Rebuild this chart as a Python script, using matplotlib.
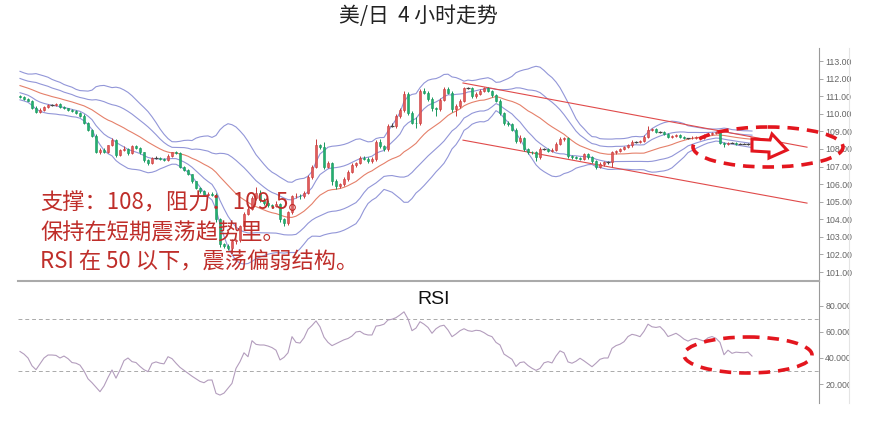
import numpy as np
import pandas as pd
import matplotlib
matplotlib.use("Agg")
import matplotlib.pyplot as plt
from matplotlib.patches import Ellipse, Polygon
from matplotlib.ticker import FormatStrFormatter, FixedLocator
from matplotlib.transforms import Bbox, TransformedBbox
from matplotlib.lines import Line2D

plt.rcParams['font.family'] = ['Noto Sans CJK SC', 'DejaVu Sans']

# ---------------- data (USD/JPY, 4H candles) ----------------
warmup_closes = [112.35, 112.20, 112.05, 111.95, 112.10, 111.85, 111.75, 111.90, 111.65, 111.55,
                 111.70, 111.45, 111.35, 111.50, 111.25, 111.15, 111.30, 111.05, 111.00]

closes = [
    110.95, 110.85, 110.75, 110.35, 110.10, 110.20, 110.40, 110.50, 110.50, 110.55,
    110.40, 110.30, 110.20, 110.15, 110.05, 109.90, 109.50, 109.10, 108.75, 107.85,
    107.95, 107.85, 108.20, 108.50, 107.65, 107.95, 108.00, 107.75, 108.15, 108.05,
    107.80, 107.35, 107.20, 107.50, 107.50, 107.45, 107.35, 107.60, 107.80, 107.75,
    107.00, 106.80, 106.55, 106.15, 105.80, 105.60, 105.40, 105.45, 105.40,
    104.00, 102.60, 102.50, 102.35, 102.75, 102.80, 103.60, 104.30, 104.60, 105.20,
    105.50, 105.10, 104.95, 104.80, 104.75, 104.85, 104.00, 103.80, 104.40, 105.30,
    105.35,
    105.30, 105.50, 106.40, 107.00, 108.20, 108.10, 107.00, 107.20, 106.20, 105.90,
    106.00, 106.30, 106.70, 107.10, 107.20, 107.50, 107.45, 107.30, 107.40, 108.40,
    108.15, 108.00, 109.30, 109.30, 109.90, 110.20, 111.15, 110.05, 109.50, 109.45,
    111.30, 111.20, 110.85, 110.30, 110.25, 110.80, 111.40, 111.20, 110.25, 110.45,
    110.75, 111.45, 111.45, 111.00, 111.15, 111.30, 111.45, 111.30, 111.05, 110.75,
    110.05, 109.50, 109.40, 109.10, 108.45, 108.60, 108.00, 107.85, 107.80, 107.55,
    108.00, 108.00, 107.90, 107.95, 108.30, 108.55, 108.60, 107.60, 107.55, 107.50,
    107.45, 107.70, 107.55, 107.30, 107.00, 107.15, 107.25, 107.25, 107.80, 107.90,
    108.00, 108.10, 108.20, 108.40, 108.40, 108.45, 108.70, 109.10, 109.15, 108.95,
    108.95, 108.85, 108.70, 108.75, 108.80, 108.70, 108.60, 108.60, 108.65, 108.70,
    108.65, 108.80, 108.85, 108.90, 108.95, 108.35, 108.30, 108.35, 108.35, 108.30,
    108.30, 108.30, 108.28, 108.25,
]

# each 4H candle opens at the prior close
opens = [warmup_closes[-1]] + closes[:-1]

upper_wicks = [
    0.05, 0.05, 0.04, 0.06, 0.08, 0.10, 0.05, 0.06, 0.05, 0.08,
    0.05, 0.06, 0.04, 0.05, 0.06, 0.05, 0.08, 0.06, 0.05, 0.10,
    0.08, 0.12, 0.05, 0.10, 0.08, 0.06, 0.15, 0.05, 0.08, 0.05,
    0.06, 0.05, 0.06, 0.05, 0.08, 0.05, 0.06, 0.10, 0.05, 0.06,
    0.06, 0.05, 0.06, 0.05, 0.05, 0.06, 0.05, 0.10, 0.08, 0.12,
    0.10, 0.06, 0.08, 0.12, 0.10, 0.08, 0.10, 0.12, 0.10, 0.35,
    0.15, 0.10, 0.12, 0.08, 0.20, 0.10, 0.10, 0.08, 0.10, 0.15,
    0.10, 0.12, 0.10, 0.08, 0.35, 0.10, 0.30, 0.12, 0.08, 0.10,
    0.08, 0.10, 0.08, 0.10, 0.08, 0.10, 0.08, 0.10, 0.12, 0.08,
    0.15, 0.10, 0.10, 0.15, 0.10, 0.12, 0.15, 0.10, 0.12, 0.30,
    0.12, 0.15, 0.10, 0.08, 0.10, 0.08, 0.10, 0.12, 0.08, 0.10,
    0.10, 0.08, 0.10, 0.08, 0.10, 0.10, 0.08, 0.10, 0.08, 0.06,
    0.08, 0.06, 0.08, 0.06, 0.10, 0.20, 0.10, 0.08, 0.06, 0.08,
    0.10, 0.08, 0.06, 0.08, 0.10, 0.12, 0.08, 0.06, 0.08, 0.06,
    0.06, 0.08, 0.06, 0.05, 0.06, 0.08, 0.06, 0.08, 0.10, 0.06,
    0.08, 0.06, 0.08, 0.10, 0.06, 0.06, 0.08, 0.20, 0.06, 0.06,
    0.05, 0.06, 0.05, 0.06, 0.05, 0.05, 0.06, 0.05, 0.06, 0.05,
    0.05, 0.06, 0.05, 0.06, 0.08, 0.08, 0.05, 0.04, 0.05, 0.04,
    0.04, 0.04, 0.04, 0.05,
]

lower_wicks = [
    0.05, 0.06, 0.05, 0.08, 0.06, 0.05, 0.06, 0.05, 0.06, 0.05,
    0.06, 0.05, 0.06, 0.05, 0.06, 0.08, 0.06, 0.08, 0.06, 0.10,
    0.12, 0.08, 0.06, 0.06, 0.10, 0.08, 0.06, 0.10, 0.06, 0.08,
    0.06, 0.08, 0.10, 0.06, 0.05, 0.06, 0.05, 0.06, 0.08, 0.06,
    0.10, 0.08, 0.06, 0.08, 0.06, 0.08, 0.06, 0.05, 0.06, 0.15,
    0.20, 0.15, 0.12, 0.10, 0.15, 0.08, 0.10, 0.08, 0.10, 0.08,
    0.10, 0.12, 0.08, 0.10, 0.08, 0.15, 0.20, 0.12, 0.08, 0.10,
    0.12, 0.10, 0.08, 0.10, 0.08, 0.10, 0.12, 0.10, 0.25, 0.15,
    0.10, 0.08, 0.10, 0.08, 0.10, 0.08, 0.10, 0.12, 0.08, 0.10,
    0.10, 0.12, 0.10, 0.08, 0.10, 0.12, 0.10, 0.12, 0.10, 0.25,
    0.10, 0.08, 0.10, 0.12, 0.40, 0.10, 0.08, 0.10, 0.15, 0.35,
    0.10, 0.08, 0.06, 0.10, 0.08, 0.06, 0.08, 0.06, 0.08, 0.10,
    0.10, 0.12, 0.08, 0.10, 0.12, 0.10, 0.10, 0.12, 0.10, 0.25,
    0.12, 0.08, 0.10, 0.08, 0.06, 0.08, 0.10, 0.12, 0.10, 0.10,
    0.08, 0.10, 0.12, 0.10, 0.15, 0.08, 0.10, 0.08, 0.25, 0.08,
    0.06, 0.08, 0.06, 0.08, 0.06, 0.08, 0.06, 0.08, 0.06, 0.06,
    0.06, 0.05, 0.06, 0.05, 0.06, 0.05, 0.06, 0.05, 0.05, 0.06,
    0.05, 0.06, 0.05, 0.06, 0.05, 0.06, 0.20, 0.05, 0.04, 0.05,
    0.04, 0.04, 0.04, 0.05,
]

rsi_values = [
    45.0, 43.0, 40.0, 34.0, 31.0, 35.5, 40.0, 42.3, 42.3, 42.0,
    40.0, 41.5, 39.5, 36.5, 36.0, 34.5, 30.0, 24.0, 21.0, 17.5,
    14.1, 18.5, 25.0, 30.8, 24.5, 30.8, 38.0, 40.0, 37.2, 36.5,
    33.5, 31.0, 29.5, 35.9, 37.0, 36.0, 35.5, 41.0, 39.5, 36.0,
    32.8, 30.5, 28.2, 26.0, 24.0, 22.0, 21.0, 23.0, 23.1, 12.8,
    11.5, 13.0, 16.7, 20.5, 32.0, 37.2, 44.0, 41.0, 53.3, 50.5,
    50.0, 50.0, 49.2, 48.0, 46.0, 38.5, 40.5, 44.0, 56.4, 52.0,
    51.5, 55.5, 62.1, 65.0, 68.5, 64.0, 56.0, 52.0, 49.5, 51.0,
    52.5, 54.0, 55.0, 56.9, 60.0, 60.5, 58.5, 57.7, 57.7, 64.5,
    65.0, 66.0, 69.2, 69.8, 71.0, 73.1, 75.5, 70.0, 61.0, 63.0,
    67.9, 66.0, 63.5, 59.0, 62.5, 64.5, 65.2, 61.5, 56.4, 58.5,
    61.0, 62.5, 61.0, 60.5, 61.3, 61.0, 59.5, 57.5, 56.4, 52.0,
    50.0, 43.0, 41.0, 39.0, 33.5, 36.5, 37.0, 34.2, 32.1, 30.5,
    32.0, 36.3, 37.2, 36.2, 41.5, 45.5, 44.0, 37.0, 36.0, 37.5,
    39.8, 37.8, 35.5, 33.3, 36.0, 39.0, 40.0, 40.0, 47.4, 49.5,
    50.6, 52.5, 56.5, 58.2, 57.5, 56.4, 60.5, 66.0, 64.0, 63.5,
    64.1, 61.0, 56.5, 57.7, 59.0, 57.0, 54.5, 53.0, 54.5, 55.1,
    54.0, 53.0, 55.5, 56.5, 55.1, 52.0, 42.5, 46.0, 43.6, 44.5,
    44.2, 44.0, 44.5, 41.5,
]

# Bollinger settings
bb_period = 20

# descending channel drawn by the analyst (bar index, price)
channel_upper_x = [110.75, 196.75]
channel_upper_y = [111.75, 108.10]
channel_lower_x = [110.75, 196.75]
channel_lower_y = [108.50, 104.92]

price_ticks = list(range(101, 114))
rsi_ticks = [20, 40, 60, 80]
rsi_levels = [30, 70]

title_text = "美/日  4 小时走势"
notes = ["支撑：108，阻力：109.5。",
         "保持在短期震荡趋势里。",
         "RSI 在 50 以下，震荡偏弱结构。"]

# ---------------- figure ----------------
W, H = 871, 429
fig = plt.figure(figsize=(W / 100, H / 100), dpi=100)
fig.patch.set_facecolor("white")


def fx(px):
    return px / W


def fy(py):
    return 1 - py / H


L, R = 18, 819
ax = fig.add_axes([fx(L), fy(281), fx(R) - fx(L), fy(48) - fy(281)])
ax_r = fig.add_axes([fx(L), fy(403), fx(R) - fx(L), fy(281) - fy(403)])

n = len(closes)
x = np.arange(n)
o = np.array(opens)
c = np.array(closes)
hi = np.maximum(o, c) + np.array(upper_wicks)
lo = np.minimum(o, c) - np.array(lower_wicks)

# Bollinger bands (20, 1σ and 2σ)
s = pd.Series(warmup_closes + closes)
mid = s.rolling(bb_period).mean().to_numpy()[-n:]
sd = s.rolling(bb_period).std(ddof=0).to_numpy()[-n:]

band_col = "#9296d8"
ax.plot(x, mid + 2 * sd, color=band_col, lw=0.8, zorder=2)
ax.plot(x, mid + sd, color=band_col, lw=0.8, zorder=2)
ax.plot(x, mid - sd, color=band_col, lw=0.8, zorder=2)
ax.plot(x, mid - 2 * sd, color=band_col, lw=0.8, zorder=2)
ax.plot(x, mid, color="#e5806a", lw=0.8, zorder=2)

# channel
ax.plot(channel_upper_x, channel_upper_y, color="#e04a4a", lw=0.8, zorder=2)
ax.plot(channel_lower_x, channel_lower_y, color="#e04a4a", lw=0.8, zorder=2)

# candles
up_face, up_edge = "#e25b5b", "#c93c3c"
dn_face, dn_edge = "#22b070", "#17965c"
for i in range(n):
    diff = c[i] - o[i]
    if abs(diff) < 0.03:
        col = "#444444"
        ax.vlines(x[i], lo[i], hi[i], color=col, lw=0.7, zorder=3)
        ax.hlines(o[i], x[i] - 0.4, x[i] + 0.4, color=col, lw=0.9, zorder=3)
        continue
    fc, ec = (up_face, up_edge) if diff > 0 else (dn_face, dn_edge)
    ax.vlines(x[i], lo[i], hi[i], color=ec, lw=0.7, zorder=3)
    ax.bar(x[i], abs(diff), bottom=min(o[i], c[i]), width=0.72,
           color=fc, edgecolor=ec, linewidth=0.4, zorder=4)

xlim = (-0.5, (R - L) / 4.0 - 0.5)
ax.set_xlim(*xlim)
ax.set_ylim(100.49, 113.74)

# RSI
ax_r.plot(x, rsi_values, color="#b39dbd", lw=0.8, zorder=3)
for lv in rsi_levels:
    ax_r.axhline(lv, color="#aaaaaa", lw=0.7, ls=(0, (4, 3)), zorder=2)
ax_r.set_xlim(*xlim)
ax_r.set_ylim(5.4, 99.2)

for a, ticks, fmt in ((ax, price_ticks, "%.2f"), (ax_r, rsi_ticks, "%.4f")):
    for sp in ("top", "left", "bottom"):
        a.spines[sp].set_visible(False)
    a.spines["right"].set_color("#9a9a9a")
    a.spines["right"].set_linewidth(0.8)
    a.yaxis.tick_right()
    a.yaxis.set_major_locator(FixedLocator(ticks))
    a.yaxis.set_major_formatter(FormatStrFormatter(fmt))
    a.set_xticks([])
    a.tick_params(axis="y", direction="out", length=3, width=0.6,
                  colors="#9a9a9a", labelcolor="#666666", labelsize=6.3, pad=1.5)
    for lab in a.get_yticklabels():
        lab.set_fontfamily(["Liberation Sans", "DejaVu Sans"])
    a.set_facecolor("none")

# separator between panels and faint right boundary
fig.add_artist(Line2D([fx(L), fx(R)], [fy(281), fy(281)], color="#aaaaaa", lw=1.5))
fig.add_artist(Line2D([fx(849), fx(849)], [fy(48), fy(403)], color="#e4e4e4", lw=0.8))

# titles / text
fig.text(fx(418), fy(16), title_text, ha="center", va="center",
         fontsize=15, color="#222222")
fig.text(fx(434), fy(300), "RSI", ha="center", va="center", fontsize=14,
         color="#111111", family=["Liberation Sans", "DejaVu Sans"])
note_y = [203, 233, 262]
for t, yy in zip(notes, note_y):
    fig.text(fx(40), fy(yy), t, ha="left", va="center", fontsize=16,
             color="#bf2e2a", zorder=20)

# overlay for hand-drawn marks
ov = fig.add_axes([0, 0, 1, 1], zorder=10)
ov.set_xlim(0, W)
ov.set_ylim(H, 0)
ov.axis("off")
ov.patch.set_alpha(0)
red = "#e3161e"
ov.add_patch(Ellipse((768, 147), 150, 40, fill=False, ec=red, lw=2.6, ls=(0, (3.2, 2.2))))
ov.add_patch(Ellipse((748, 355), 128, 36, fill=False, ec=red, lw=2.6, ls=(0, (3.2, 2.2))))
ov.add_patch(Polygon([(752, 139), (770, 140), (772, 134), (787, 150), (769, 158),
                      (769, 152), (752, 151)], closed=True, fc="white", ec=red,
                     lw=2.2, joinstyle="miter"))

fig.canvas.draw()
clip = TransformedBbox(Bbox([[0, 0], [849 / W, 1]]), fig.transFigure)
for lab in ax_r.get_yticklabels():
    lab.set_clip_on(True)
    lab.set_clip_box(clip)

fig.savefig("out.png", dpi=100, facecolor="white")
